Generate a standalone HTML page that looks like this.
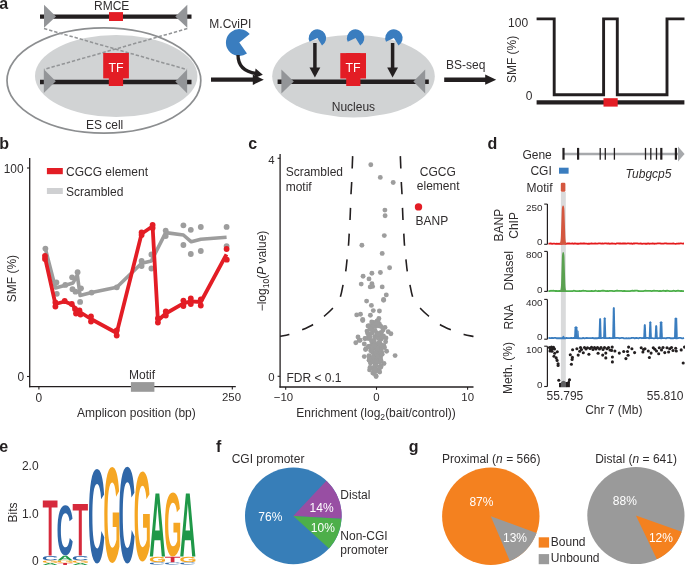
<!DOCTYPE html>
<html><head><meta charset="utf-8"><style>
html,body{margin:0;padding:0;background:#fff;}
svg{display:block;will-change:transform;font-family:"Liberation Sans", sans-serif;}
</style></head><body>
<svg width="685" height="565" viewBox="0 0 685 565">
<rect width="685" height="565" fill="#fff"/>
<text x="-0.8" y="8.8" font-size="16" text-anchor="start" fill="#231f20" font-weight="bold" font-style="normal" >a</text>
<ellipse cx="103.9" cy="80.5" rx="96.9" ry="52.6" fill="none" stroke="#8c8e90" stroke-width="1.7"/>
<ellipse cx="116.2" cy="76" rx="81.2" ry="41" fill="#d1d3d4"/>
<ellipse cx="353.5" cy="76.2" rx="81.3" ry="41.3" fill="#d1d3d4"/>
<text x="111.7" y="9.6" font-size="12" text-anchor="middle" fill="#302d2e" font-weight="normal" font-style="normal" >RMCE</text>
<line x1="40" y1="16.6" x2="191.5" y2="16.6" stroke="#231f20" stroke-width="4.4" />
<rect x="109" y="12.1" width="14" height="8.9" fill="#e31d25" />
<polygon points="44,4.8 44,27.8 56,16.4" fill="#939598" />
<polygon points="187.3,4.8 187.3,27.8 175.3,16.4" fill="#939598" />
<line x1="44" y1="28.6" x2="187" y2="69.6" stroke="#939597" stroke-width="1.55" stroke-dasharray="3.4 1.9"/>
<line x1="187.3" y1="28.6" x2="44" y2="69.4" stroke="#939597" stroke-width="1.55" stroke-dasharray="3.4 1.9"/>
<line x1="40" y1="82" x2="191.5" y2="82" stroke="#231f20" stroke-width="4.4" />
<polygon points="43.8,69.3 43.8,93.1 55.8,81.2" fill="#939598" />
<polygon points="187.1,69.5 187.1,93.3 175.3,81.4" fill="#939598" />
<rect x="103.2" y="53" width="25.7" height="25.4" fill="#e31d25" />
<rect x="108.8" y="53" width="14.3" height="33" fill="#e31d25" />
<text x="116" y="72" font-size="12.4" text-anchor="middle" fill="#fff" font-weight="normal" font-style="normal" >TF</text>
<text x="104.6" y="128.7" font-size="12" text-anchor="middle" fill="#302d2e" font-weight="normal" font-style="normal" >ES cell</text>
<text x="230.3" y="27.9" font-size="12" text-anchor="middle" fill="#302d2e" font-weight="normal" font-style="normal" >M.CviPI</text>
<path d="M239.3,42.5 L246.99,53.48 A13.4,13.4 0 1 1 249.71,34.07 Z" fill="#3a7dbf"/>
<path d="M238,55 C238,66 245,72 256.5,73.6" fill="none" stroke="#231f20" stroke-width="3.3"/>
<polygon points="255.6,68.4 262.8,74.8 254.2,78.2" fill="#231f20" />
<line x1="211" y1="79.7" x2="254" y2="79.7" stroke="#231f20" stroke-width="4.2" />
<polygon points="252.8,74.5 263.8,79.7 252.8,84.9" fill="#231f20" />
<line x1="277.6" y1="81.8" x2="428.8" y2="81.8" stroke="#231f20" stroke-width="4.4" />
<polygon points="281.4,69.4 281.4,93.4 293.8,81.6" fill="#939598" />
<polygon points="425.2,69.4 425.2,93.4 413.4,81.6" fill="#939598" />
<rect x="340.3" y="53.1" width="25.7" height="25.4" fill="#e31d25" />
<rect x="346.2" y="53.1" width="14.2" height="32.9" fill="#e31d25" />
<text x="353.1" y="72" font-size="12.4" text-anchor="middle" fill="#fff" font-weight="normal" font-style="normal" >TF</text>
<text x="353.4" y="110.7" font-size="12" text-anchor="middle" fill="#302d2e" font-weight="normal" font-style="normal" >Nucleus</text>
<path d="M317.4,38 L309.52,41.68 A8.7,8.7 0 1 1 322.01,45.38 Z" fill="#3a7dbf"/>
<path d="M355.6,38 L347.72,41.68 A8.7,8.7 0 1 1 360.21,45.38 Z" fill="#3a7dbf"/>
<path d="M393.9,38 L386.02,41.68 A8.7,8.7 0 1 1 398.51,45.38 Z" fill="#3a7dbf"/>
<line x1="314.9" y1="43" x2="314.9" y2="68.5" stroke="#231f20" stroke-width="3.5" />
<polygon points="309.5,67.4 320.29999999999995,67.4 314.9,77.4" fill="#231f20" />
<line x1="392.6" y1="43" x2="392.6" y2="68.5" stroke="#231f20" stroke-width="3.5" />
<polygon points="387.20000000000005,67.4 398.0,67.4 392.6,77.4" fill="#231f20" />
<text x="465.8" y="68.9" font-size="12" text-anchor="middle" fill="#302d2e" font-weight="normal" font-style="normal" >BS-seq</text>
<line x1="444.2" y1="79.7" x2="486" y2="79.7" stroke="#231f20" stroke-width="4.4" />
<polygon points="485.2,74.6 496.2,79.7 485.2,84.8" fill="#231f20" />
<text x="528.1" y="26.9" font-size="12" text-anchor="end" fill="#302d2e" font-weight="normal" font-style="normal" >100</text>
<text x="532.4" y="99.8" font-size="12" text-anchor="end" fill="#302d2e" font-weight="normal" font-style="normal" >0</text>
<text transform="translate(516.4,59.4) rotate(-90)" font-size="12" text-anchor="middle" fill="#302d2e" >SMF (%)</text>
<path d="M536.6,18.9 H554.2 V94.8 H603.6 V18.9 H617.3 V94.8 H667 V18.9 H684.5" fill="none" stroke="#231f20" stroke-width="2.9"/>
<line x1="536.6" y1="102.4" x2="684.4" y2="102.4" stroke="#231f20" stroke-width="4.4" />
<rect x="603.5" y="98.2" width="14.2" height="8.4" fill="#e31d25" />
<text x="-0.8" y="148.7" font-size="16" text-anchor="start" fill="#231f20" font-weight="bold" font-style="normal" >b</text>
<line x1="29.7" y1="158" x2="29.7" y2="387.3" stroke="#231f20" stroke-width="1.3" />
<line x1="29.05" y1="386.7" x2="235.8" y2="386.7" stroke="#231f20" stroke-width="1.3" />
<line x1="27" y1="168" x2="29.7" y2="168" stroke="#231f20" stroke-width="1.1" />
<line x1="27" y1="376.5" x2="29.7" y2="376.5" stroke="#231f20" stroke-width="1.1" />
<line x1="38.9" y1="386.7" x2="38.9" y2="389.6" stroke="#231f20" stroke-width="1.1" />
<line x1="232.3" y1="386.7" x2="232.3" y2="389.6" stroke="#231f20" stroke-width="1.1" />
<text x="23.5" y="173.1" font-size="11.9" text-anchor="end" fill="#302d2e" font-weight="normal" font-style="normal" >100</text>
<text x="24" y="381" font-size="11.9" text-anchor="end" fill="#302d2e" font-weight="normal" font-style="normal" >0</text>
<text x="38.9" y="401.8" font-size="11.9" text-anchor="middle" fill="#302d2e" font-weight="normal" font-style="normal" >0</text>
<text x="231.5" y="401.2" font-size="11.4" text-anchor="middle" fill="#302d2e" font-weight="normal" font-style="normal" >250</text>
<text transform="translate(16.2,278.6) rotate(-90)" font-size="12" text-anchor="middle" fill="#302d2e" >SMF (%)</text>
<text x="136.4" y="416.6" font-size="12" text-anchor="middle" fill="#302d2e" font-weight="normal" font-style="normal" >Amplicon position (bp)</text>
<rect x="130.9" y="382.1" width="23.5" height="9.7" fill="#999999" />
<text x="142.1" y="379.1" font-size="12" text-anchor="middle" fill="#302d2e" font-weight="normal" font-style="normal" >Motif</text>
<rect x="46.9" y="168" width="15.9" height="6.2" fill="#e31d25" />
<text x="66" y="175.7" font-size="12" text-anchor="start" fill="#302d2e" font-weight="normal" font-style="normal" >CGCG element</text>
<rect x="46.9" y="188" width="15.9" height="6" fill="#cfd0d2" />
<text x="66" y="195.5" font-size="12" text-anchor="start" fill="#302d2e" font-weight="normal" font-style="normal" >Scrambled</text>
<polyline points="45.4,248.9 55.5,288 65.3,285.3 73,283 77.3,275 80.1,295.5 91.6,292.6 116.8,287.3 141.6,263.2 151.4,260.9 165.7,232.6 183.4,235 191.3,241.8 200.8,239.3 226.6,237.2" fill="none" stroke="#9d9d9d" stroke-width="3.6" stroke-linejoin="round" stroke-linecap="butt" />
<circle cx="45.4" cy="248.6" r="2.9" fill="#9d9d9d"/>
<circle cx="56.4" cy="282.4" r="2.9" fill="#9d9d9d"/>
<circle cx="56.8" cy="293.8" r="2.9" fill="#9d9d9d"/>
<circle cx="65.3" cy="284.9" r="2.9" fill="#9d9d9d"/>
<circle cx="77.6" cy="272.2" r="2.9" fill="#9d9d9d"/>
<circle cx="72.1" cy="277.3" r="2.9" fill="#9d9d9d"/>
<circle cx="72.5" cy="289.2" r="2.9" fill="#9d9d9d"/>
<circle cx="75.5" cy="291.7" r="2.9" fill="#9d9d9d"/>
<circle cx="81" cy="288.3" r="2.9" fill="#9d9d9d"/>
<circle cx="80.1" cy="301.9" r="2.9" fill="#9d9d9d"/>
<circle cx="91.6" cy="292.6" r="2.9" fill="#9d9d9d"/>
<circle cx="116.8" cy="287.3" r="2.9" fill="#9d9d9d"/>
<circle cx="141.6" cy="261" r="2.9" fill="#9d9d9d"/>
<circle cx="141.6" cy="266" r="2.9" fill="#9d9d9d"/>
<circle cx="151.4" cy="254.5" r="2.9" fill="#9d9d9d"/>
<circle cx="151.4" cy="268.5" r="2.9" fill="#9d9d9d"/>
<circle cx="165.7" cy="230.6" r="2.9" fill="#9d9d9d"/>
<circle cx="165.7" cy="236" r="2.9" fill="#9d9d9d"/>
<circle cx="183.4" cy="225.3" r="2.9" fill="#9d9d9d"/>
<circle cx="183.4" cy="245" r="2.9" fill="#9d9d9d"/>
<circle cx="190.8" cy="229.8" r="2.9" fill="#9d9d9d"/>
<circle cx="190.8" cy="254" r="2.9" fill="#9d9d9d"/>
<circle cx="200.8" cy="227" r="2.9" fill="#9d9d9d"/>
<circle cx="200.8" cy="251" r="2.9" fill="#9d9d9d"/>
<circle cx="226.6" cy="226.9" r="2.9" fill="#9d9d9d"/>
<circle cx="226.6" cy="246.1" r="2.9" fill="#9d9d9d"/>
<polyline points="45,257.5 55.4,304 64.7,301.5 71.8,304.5 77.5,310.5 91,319 116.7,333 141.6,233.8 152.6,226.3 157.9,320.5 165.8,313.5 183.4,303.4 190.8,301.3 200.8,302 226.5,254.3" fill="none" stroke="#e31d25" stroke-width="3.8" stroke-linejoin="round" stroke-linecap="butt" />
<circle cx="45" cy="256" r="2.9" fill="#e31d25"/>
<circle cx="45" cy="259" r="2.9" fill="#e31d25"/>
<circle cx="55.4" cy="302.5" r="2.9" fill="#e31d25"/>
<circle cx="55.4" cy="306.5" r="2.9" fill="#e31d25"/>
<circle cx="64.7" cy="301" r="2.9" fill="#e31d25"/>
<circle cx="71.8" cy="304" r="2.9" fill="#e31d25"/>
<circle cx="75" cy="309" r="2.9" fill="#e31d25"/>
<circle cx="76" cy="313.5" r="2.9" fill="#e31d25"/>
<circle cx="79.5" cy="310.5" r="2.9" fill="#e31d25"/>
<circle cx="80.5" cy="314.5" r="2.9" fill="#e31d25"/>
<circle cx="78" cy="312" r="2.9" fill="#e31d25"/>
<circle cx="91" cy="316.5" r="2.9" fill="#e31d25"/>
<circle cx="91" cy="321.5" r="2.9" fill="#e31d25"/>
<circle cx="116.7" cy="330.5" r="2.9" fill="#e31d25"/>
<circle cx="116.7" cy="335.5" r="2.9" fill="#e31d25"/>
<circle cx="141.6" cy="232.5" r="2.9" fill="#e31d25"/>
<circle cx="141.6" cy="235" r="2.9" fill="#e31d25"/>
<circle cx="152.6" cy="225" r="2.9" fill="#e31d25"/>
<circle cx="152.6" cy="228" r="2.9" fill="#e31d25"/>
<circle cx="157.9" cy="318.5" r="2.9" fill="#e31d25"/>
<circle cx="157.9" cy="322.5" r="2.9" fill="#e31d25"/>
<circle cx="165.8" cy="311.5" r="2.9" fill="#e31d25"/>
<circle cx="165.8" cy="315.5" r="2.9" fill="#e31d25"/>
<circle cx="183.4" cy="300.6" r="2.9" fill="#e31d25"/>
<circle cx="183.4" cy="306" r="2.9" fill="#e31d25"/>
<circle cx="190.8" cy="298.5" r="2.9" fill="#e31d25"/>
<circle cx="190.8" cy="304" r="2.9" fill="#e31d25"/>
<circle cx="200.8" cy="299.5" r="2.9" fill="#e31d25"/>
<circle cx="200.8" cy="305.5" r="2.9" fill="#e31d25"/>
<circle cx="226.6" cy="249" r="2.9" fill="#e31d25"/>
<circle cx="226.8" cy="259.7" r="2.9" fill="#e31d25"/>
<text x="248.2" y="148.7" font-size="16" text-anchor="start" fill="#231f20" font-weight="bold" font-style="normal" >c</text>
<line x1="280.1" y1="153.9" x2="280.1" y2="387.6" stroke="#231f20" stroke-width="1.3" />
<line x1="279.45" y1="387" x2="473.5" y2="387" stroke="#231f20" stroke-width="1.3" />
<line x1="277.6" y1="158.3" x2="280.1" y2="158.3" stroke="#231f20" stroke-width="1.1" />
<line x1="277.6" y1="376.3" x2="280.1" y2="376.3" stroke="#231f20" stroke-width="1.1" />
<line x1="285.7" y1="387" x2="285.7" y2="389.8" stroke="#231f20" stroke-width="1.1" />
<line x1="376.5" y1="387" x2="376.5" y2="389.8" stroke="#231f20" stroke-width="1.1" />
<line x1="467.6" y1="387" x2="467.6" y2="389.8" stroke="#231f20" stroke-width="1.1" />
<text x="274.6" y="163.6" font-size="11.4" text-anchor="end" fill="#302d2e" font-weight="normal" font-style="normal" >4</text>
<text x="274.6" y="380.5" font-size="11.4" text-anchor="end" fill="#302d2e" font-weight="normal" font-style="normal" >0</text>
<text x="283.4" y="401.3" font-size="11.4" text-anchor="middle" fill="#302d2e" font-weight="normal" font-style="normal" >−10</text>
<text x="376.5" y="401.3" font-size="11.4" text-anchor="middle" fill="#302d2e" font-weight="normal" font-style="normal" >0</text>
<text x="467.7" y="401.3" font-size="11.4" text-anchor="middle" fill="#302d2e" font-weight="normal" font-style="normal" >10</text>
<text x="296.3" y="416.6" font-size="12" fill="#302d2e">Enrichment (log<tspan font-size="8.6" dy="3">2</tspan><tspan dy="-3">(bait/control))</tspan></text>
<text transform="translate(265.9,271) rotate(-90)" font-size="12" text-anchor="middle" fill="#302d2e">−log<tspan font-size="8.6" dy="3">10</tspan><tspan dy="-3">(</tspan><tspan font-style="italic">P</tspan> value)</text>
<text x="285.7" y="176.4" font-size="12" text-anchor="start" fill="#302d2e" font-weight="normal" font-style="normal" >Scrambled</text>
<text x="285.7" y="190.7" font-size="12" text-anchor="start" fill="#302d2e" font-weight="normal" font-style="normal" >motif</text>
<text x="419.8" y="176.3" font-size="12" text-anchor="start" fill="#302d2e" font-weight="normal" font-style="normal" >CGCG</text>
<text x="416.8" y="190.4" font-size="12" text-anchor="start" fill="#302d2e" font-weight="normal" font-style="normal" >element</text>
<text x="415.6" y="224.6" font-size="12" text-anchor="start" fill="#302d2e" font-weight="normal" font-style="normal" >BANP</text>
<text x="286.4" y="382" font-size="12" text-anchor="start" fill="#302d2e" font-weight="normal" font-style="normal" >FDR &lt; 0.1</text>
<path d="M352.7,155 C352.62,157.17 352.37,163.50 352.2,168 C352.03,172.50 351.90,177.62 351.7,182 C351.50,186.38 351.20,189.97 351,194.3 C350.80,198.63 350.67,203.72 350.5,208 C350.33,212.28 350.22,215.75 350,220 C349.78,224.25 349.45,229.28 349.2,233.5 C348.95,237.72 348.85,241.05 348.5,245.3 C348.15,249.55 347.57,254.65 347.1,259 C346.63,263.35 346.37,267.15 345.7,271.4 C345.03,275.65 343.95,280.42 343.1,284.5 C342.25,288.58 341.70,292.73 340.6,295.9 C339.50,299.07 338.10,301.15 336.5,303.5 C334.90,305.85 332.92,308.00 331,310 C329.08,312.00 327.17,313.67 325,315.5 C322.83,317.33 320.33,319.28 318,321 C315.67,322.72 313.33,324.47 311,325.8 C308.67,327.13 306.33,327.97 304,329 C301.67,330.03 299.50,331.08 297,332 C294.50,332.92 291.82,333.78 289,334.5 C286.18,335.22 281.58,336.00 280.1,336.3" fill="none" stroke="#231f20" stroke-width="1.6" stroke-dasharray="12.2 13.6" stroke-dashoffset="-1.3"/>
<path d="M400.3,155 C400.38,157.17 400.63,163.50 400.8,168 C400.97,172.50 401.10,177.62 401.3,182 C401.50,186.38 401.80,189.97 402.0,194.3 C402.20,198.63 402.33,203.72 402.5,208 C402.67,212.28 402.78,215.75 403.0,220 C403.22,224.25 403.55,229.28 403.8,233.5 C404.05,237.72 404.15,241.05 404.5,245.3 C404.85,249.55 405.43,254.65 405.9,259 C406.37,263.35 406.63,267.15 407.3,271.4 C407.97,275.65 409.05,280.42 409.9,284.5 C410.75,288.58 411.30,292.73 412.4,295.9 C413.50,299.07 414.90,301.15 416.5,303.5 C418.10,305.85 420.08,308.00 422.0,310 C423.92,312.00 425.83,313.67 428.0,315.5 C430.17,317.33 432.67,319.28 435.0,321 C437.33,322.72 439.67,324.47 442.0,325.8 C444.33,327.13 446.67,327.97 449.0,329 C451.33,330.03 453.50,331.08 456.0,332 C458.50,332.92 461.08,333.75 464.0,334.5 C466.92,335.25 471.92,336.17 473.5,336.5" fill="none" stroke="#231f20" stroke-width="1.6" stroke-dasharray="12.2 13.6" stroke-dashoffset="-1.3"/>
<circle cx="370.8" cy="164.8" r="2.45" fill="#9d9d9d"/>
<circle cx="380.3" cy="177.4" r="2.45" fill="#9d9d9d"/>
<circle cx="393.2" cy="182.5" r="2.45" fill="#9d9d9d"/>
<circle cx="384.9" cy="210.1" r="2.45" fill="#9d9d9d"/>
<circle cx="385.1" cy="215.8" r="2.45" fill="#9d9d9d"/>
<circle cx="384.3" cy="235.6" r="2.45" fill="#9d9d9d"/>
<circle cx="361.9" cy="245.3" r="2.45" fill="#9d9d9d"/>
<circle cx="382.2" cy="253.4" r="2.45" fill="#9d9d9d"/>
<circle cx="389.6" cy="267.8" r="2.45" fill="#9d9d9d"/>
<circle cx="371.9" cy="273.2" r="2.45" fill="#9d9d9d"/>
<circle cx="380.4" cy="272.5" r="2.45" fill="#9d9d9d"/>
<circle cx="363.1" cy="276.3" r="2.45" fill="#9d9d9d"/>
<circle cx="369" cy="278.9" r="2.45" fill="#9d9d9d"/>
<circle cx="361.2" cy="284.1" r="2.45" fill="#9d9d9d"/>
<circle cx="371.9" cy="283.8" r="2.45" fill="#9d9d9d"/>
<circle cx="370.2" cy="286.9" r="2.45" fill="#9d9d9d"/>
<circle cx="372.6" cy="286.4" r="2.45" fill="#9d9d9d"/>
<circle cx="382.2" cy="286.9" r="2.45" fill="#9d9d9d"/>
<circle cx="386.3" cy="294.9" r="2.45" fill="#9d9d9d"/>
<circle cx="383.6" cy="299.4" r="2.45" fill="#9d9d9d"/>
<circle cx="366.6" cy="301.1" r="2.45" fill="#9d9d9d"/>
<circle cx="371.4" cy="305.4" r="2.45" fill="#9d9d9d"/>
<circle cx="383.6" cy="300.3" r="2.45" fill="#9d9d9d"/>
<circle cx="373.3" cy="310.6" r="2.45" fill="#9d9d9d"/>
<circle cx="370.4" cy="315.3" r="2.45" fill="#9d9d9d"/>
<circle cx="379.4" cy="311" r="2.45" fill="#9d9d9d"/>
<circle cx="356.7" cy="314.9" r="2.45" fill="#9d9d9d"/>
<circle cx="360.5" cy="314.2" r="2.45" fill="#9d9d9d"/>
<circle cx="362.7" cy="319.5" r="2.45" fill="#9d9d9d"/>
<circle cx="378.9" cy="318.4" r="2.45" fill="#9d9d9d"/>
<circle cx="377.1" cy="321" r="2.45" fill="#9d9d9d"/>
<circle cx="373.3" cy="322.7" r="2.45" fill="#9d9d9d"/>
<circle cx="362.7" cy="320.5" r="2.45" fill="#9d9d9d"/>
<circle cx="373.4" cy="322.7" r="2.45" fill="#9d9d9d"/>
<circle cx="378.1" cy="321.1" r="2.45" fill="#9d9d9d"/>
<circle cx="371.8" cy="328" r="2.45" fill="#9d9d9d"/>
<circle cx="367" cy="331.1" r="2.45" fill="#9d9d9d"/>
<circle cx="378.7" cy="325.8" r="2.45" fill="#9d9d9d"/>
<circle cx="385" cy="327.4" r="2.45" fill="#9d9d9d"/>
<circle cx="388.2" cy="331.7" r="2.45" fill="#9d9d9d"/>
<circle cx="390.9" cy="333.8" r="2.45" fill="#9d9d9d"/>
<circle cx="380.8" cy="332.7" r="2.45" fill="#9d9d9d"/>
<circle cx="358" cy="337" r="2.45" fill="#9d9d9d"/>
<circle cx="364.9" cy="338.6" r="2.45" fill="#9d9d9d"/>
<circle cx="355.8" cy="342.8" r="2.45" fill="#9d9d9d"/>
<circle cx="360.1" cy="340.2" r="2.45" fill="#9d9d9d"/>
<circle cx="364.3" cy="343.9" r="2.45" fill="#9d9d9d"/>
<circle cx="385.6" cy="341.8" r="2.45" fill="#9d9d9d"/>
<circle cx="365.9" cy="348.7" r="2.45" fill="#9d9d9d"/>
<circle cx="386.6" cy="351.3" r="2.45" fill="#9d9d9d"/>
<circle cx="384.5" cy="347.6" r="2.45" fill="#9d9d9d"/>
<circle cx="364.3" cy="356.6" r="2.45" fill="#9d9d9d"/>
<circle cx="395.1" cy="355.6" r="2.45" fill="#9d9d9d"/>
<circle cx="369.1" cy="360.3" r="2.45" fill="#9d9d9d"/>
<circle cx="384" cy="363.5" r="2.45" fill="#9d9d9d"/>
<circle cx="369.6" cy="369.9" r="2.45" fill="#9d9d9d"/>
<circle cx="380.3" cy="366.7" r="2.45" fill="#9d9d9d"/>
<circle cx="376" cy="375.7" r="2.45" fill="#9d9d9d"/>
<circle cx="372.8" cy="373.1" r="2.45" fill="#9d9d9d"/>
<circle cx="379.7" cy="372" r="2.45" fill="#9d9d9d"/>
<circle cx="369" cy="334" r="2.45" fill="#9d9d9d"/>
<circle cx="374.7" cy="336.8" r="2.45" fill="#9d9d9d"/>
<circle cx="365.2" cy="338.5" r="2.45" fill="#9d9d9d"/>
<circle cx="359.1" cy="340.4" r="2.45" fill="#9d9d9d"/>
<circle cx="379.6" cy="342.5" r="2.45" fill="#9d9d9d"/>
<circle cx="368.3" cy="346.7" r="2.45" fill="#9d9d9d"/>
<circle cx="374" cy="345.3" r="2.45" fill="#9d9d9d"/>
<circle cx="365.5" cy="349.6" r="2.45" fill="#9d9d9d"/>
<circle cx="381.1" cy="348.8" r="2.45" fill="#9d9d9d"/>
<circle cx="372.6" cy="352.4" r="2.45" fill="#9d9d9d"/>
<circle cx="378.2" cy="353.8" r="2.45" fill="#9d9d9d"/>
<circle cx="370.4" cy="358" r="2.45" fill="#9d9d9d"/>
<circle cx="377.5" cy="359.5" r="2.45" fill="#9d9d9d"/>
<circle cx="370.4" cy="363" r="2.45" fill="#9d9d9d"/>
<circle cx="375.4" cy="365.1" r="2.45" fill="#9d9d9d"/>
<circle cx="381.1" cy="366.5" r="2.45" fill="#9d9d9d"/>
<circle cx="378.2" cy="370.8" r="2.45" fill="#9d9d9d"/>
<circle cx="374" cy="373.6" r="2.45" fill="#9d9d9d"/>
<circle cx="376.1" cy="376.5" r="2.45" fill="#9d9d9d"/>
<circle cx="376.6" cy="344.6" r="2.45" fill="#9d9d9d"/>
<circle cx="377.2" cy="349.3" r="2.45" fill="#9d9d9d"/>
<circle cx="369.8" cy="358.5" r="2.45" fill="#9d9d9d"/>
<circle cx="381.9" cy="336.5" r="2.45" fill="#9d9d9d"/>
<circle cx="371.8" cy="345.3" r="2.45" fill="#9d9d9d"/>
<circle cx="374.5" cy="371.8" r="2.45" fill="#9d9d9d"/>
<circle cx="374.7" cy="366.1" r="2.45" fill="#9d9d9d"/>
<circle cx="370.9" cy="359.0" r="2.45" fill="#9d9d9d"/>
<circle cx="379.9" cy="358.9" r="2.45" fill="#9d9d9d"/>
<circle cx="378.7" cy="354.8" r="2.45" fill="#9d9d9d"/>
<circle cx="369.9" cy="360.2" r="2.45" fill="#9d9d9d"/>
<circle cx="376.2" cy="363.3" r="2.45" fill="#9d9d9d"/>
<circle cx="368.8" cy="346.8" r="2.45" fill="#9d9d9d"/>
<circle cx="374.7" cy="367.2" r="2.45" fill="#9d9d9d"/>
<circle cx="379.7" cy="361.9" r="2.45" fill="#9d9d9d"/>
<circle cx="380.2" cy="361.7" r="2.45" fill="#9d9d9d"/>
<circle cx="379.9" cy="350.2" r="2.45" fill="#9d9d9d"/>
<circle cx="381.6" cy="352.0" r="2.45" fill="#9d9d9d"/>
<circle cx="370.6" cy="367.6" r="2.45" fill="#9d9d9d"/>
<circle cx="371.5" cy="340.9" r="2.45" fill="#9d9d9d"/>
<circle cx="374.1" cy="370.8" r="2.45" fill="#9d9d9d"/>
<circle cx="372.8" cy="358.6" r="2.45" fill="#9d9d9d"/>
<circle cx="374.0" cy="354.3" r="2.45" fill="#9d9d9d"/>
<circle cx="377.0" cy="348.6" r="2.45" fill="#9d9d9d"/>
<circle cx="380.6" cy="357.0" r="2.45" fill="#9d9d9d"/>
<circle cx="380.5" cy="360.6" r="2.45" fill="#9d9d9d"/>
<circle cx="380.4" cy="366.8" r="2.45" fill="#9d9d9d"/>
<circle cx="371.1" cy="360.2" r="2.45" fill="#9d9d9d"/>
<circle cx="380.1" cy="367.0" r="2.45" fill="#9d9d9d"/>
<circle cx="375.6" cy="368.6" r="2.45" fill="#9d9d9d"/>
<circle cx="371.7" cy="361.7" r="2.45" fill="#9d9d9d"/>
<circle cx="375.8" cy="365.9" r="2.45" fill="#9d9d9d"/>
<circle cx="369.3" cy="346.3" r="2.45" fill="#9d9d9d"/>
<circle cx="380.4" cy="366.7" r="2.45" fill="#9d9d9d"/>
<circle cx="381.0" cy="339.2" r="2.45" fill="#9d9d9d"/>
<circle cx="370.7" cy="350.8" r="2.45" fill="#9d9d9d"/>
<circle cx="379.8" cy="346.6" r="2.45" fill="#9d9d9d"/>
<circle cx="370.0" cy="367.4" r="2.45" fill="#9d9d9d"/>
<circle cx="369.5" cy="358.1" r="2.45" fill="#9d9d9d"/>
<circle cx="373.1" cy="361.9" r="2.45" fill="#9d9d9d"/>
<circle cx="380.1" cy="367.7" r="2.45" fill="#9d9d9d"/>
<circle cx="382.2" cy="354.2" r="2.45" fill="#9d9d9d"/>
<circle cx="369.5" cy="347.1" r="2.45" fill="#9d9d9d"/>
<circle cx="369.4" cy="357.6" r="2.45" fill="#9d9d9d"/>
<circle cx="374.5" cy="343.1" r="2.45" fill="#9d9d9d"/>
<circle cx="371.0" cy="358.0" r="2.45" fill="#9d9d9d"/>
<circle cx="382.3" cy="337.5" r="2.45" fill="#9d9d9d"/>
<circle cx="382.6" cy="347.3" r="2.45" fill="#9d9d9d"/>
<circle cx="373.6" cy="368.3" r="2.45" fill="#9d9d9d"/>
<circle cx="375.8" cy="352.6" r="2.45" fill="#9d9d9d"/>
<circle cx="376.5" cy="359.2" r="2.45" fill="#9d9d9d"/>
<circle cx="377.0" cy="356.1" r="2.45" fill="#9d9d9d"/>
<circle cx="374.9" cy="369.9" r="2.45" fill="#9d9d9d"/>
<circle cx="378.7" cy="351.5" r="2.45" fill="#9d9d9d"/>
<circle cx="372.8" cy="344.6" r="2.45" fill="#9d9d9d"/>
<circle cx="375.0" cy="371.2" r="2.45" fill="#9d9d9d"/>
<circle cx="369.0" cy="355.7" r="2.45" fill="#9d9d9d"/>
<circle cx="376.8" cy="350.9" r="2.45" fill="#9d9d9d"/>
<circle cx="378.2" cy="336.7" r="2.45" fill="#9d9d9d"/>
<circle cx="369.8" cy="358.8" r="2.45" fill="#9d9d9d"/>
<circle cx="374.9" cy="358.6" r="2.45" fill="#9d9d9d"/>
<circle cx="373.4" cy="360.5" r="2.45" fill="#9d9d9d"/>
<circle cx="378.1" cy="361.5" r="2.45" fill="#9d9d9d"/>
<circle cx="368.8" cy="336.8" r="2.45" fill="#9d9d9d"/>
<circle cx="380.9" cy="360.3" r="2.45" fill="#9d9d9d"/>
<circle cx="375.2" cy="345.0" r="2.45" fill="#9d9d9d"/>
<circle cx="373.0" cy="357.3" r="2.45" fill="#9d9d9d"/>
<circle cx="373.0" cy="349.1" r="2.45" fill="#9d9d9d"/>
<circle cx="377.1" cy="349.3" r="2.45" fill="#9d9d9d"/>
<circle cx="374.0" cy="346.8" r="2.45" fill="#9d9d9d"/>
<circle cx="376.7" cy="332.9" r="2.45" fill="#9d9d9d"/>
<circle cx="375.2" cy="344.2" r="2.45" fill="#9d9d9d"/>
<circle cx="377.2" cy="334.2" r="2.45" fill="#9d9d9d"/>
<circle cx="375.7" cy="326.4" r="2.45" fill="#9d9d9d"/>
<circle cx="380.6" cy="337.1" r="2.45" fill="#9d9d9d"/>
<circle cx="372.9" cy="324.3" r="2.45" fill="#9d9d9d"/>
<circle cx="379.5" cy="324.2" r="2.45" fill="#9d9d9d"/>
<circle cx="368.2" cy="338.6" r="2.45" fill="#9d9d9d"/>
<circle cx="383.4" cy="345.6" r="2.45" fill="#9d9d9d"/>
<circle cx="377.7" cy="337.7" r="2.45" fill="#9d9d9d"/>
<circle cx="369.2" cy="325.8" r="2.45" fill="#9d9d9d"/>
<circle cx="368.5" cy="334.7" r="2.45" fill="#9d9d9d"/>
<circle cx="372.1" cy="326.6" r="2.45" fill="#9d9d9d"/>
<circle cx="375.0" cy="322.7" r="2.45" fill="#9d9d9d"/>
<circle cx="381.4" cy="332.6" r="2.45" fill="#9d9d9d"/>
<circle cx="378.1" cy="334.5" r="2.45" fill="#9d9d9d"/>
<circle cx="378.4" cy="334.0" r="2.45" fill="#9d9d9d"/>
<circle cx="372.1" cy="333.0" r="2.45" fill="#9d9d9d"/>
<circle cx="383.9" cy="345.9" r="2.45" fill="#9d9d9d"/>
<circle cx="379.2" cy="342.2" r="2.45" fill="#9d9d9d"/>
<circle cx="372.0" cy="329.6" r="2.45" fill="#9d9d9d"/>
<circle cx="369.9" cy="328.9" r="2.45" fill="#9d9d9d"/>
<circle cx="374.1" cy="340.4" r="2.45" fill="#9d9d9d"/>
<circle cx="373.9" cy="342.3" r="2.45" fill="#9d9d9d"/>
<circle cx="381.5" cy="345.0" r="2.45" fill="#9d9d9d"/>
<circle cx="371.7" cy="322.0" r="2.45" fill="#9d9d9d"/>
<circle cx="375.3" cy="343.8" r="2.45" fill="#9d9d9d"/>
<circle cx="374.1" cy="345.5" r="2.45" fill="#9d9d9d"/>
<circle cx="377.2" cy="323.8" r="2.45" fill="#9d9d9d"/>
<circle cx="372.0" cy="340.7" r="2.45" fill="#9d9d9d"/>
<circle cx="368" cy="326" r="2.45" fill="#9d9d9d"/>
<circle cx="381" cy="326.5" r="2.45" fill="#9d9d9d"/>
<circle cx="383" cy="330" r="2.45" fill="#9d9d9d"/>
<circle cx="367.5" cy="333" r="2.45" fill="#9d9d9d"/>
<circle cx="370" cy="337" r="2.45" fill="#9d9d9d"/>
<circle cx="383.5" cy="336" r="2.45" fill="#9d9d9d"/>
<circle cx="386" cy="338" r="2.45" fill="#9d9d9d"/>
<circle cx="375" cy="330.5" r="2.45" fill="#9d9d9d"/>
<circle cx="378" cy="334" r="2.45" fill="#9d9d9d"/>
<circle cx="418.5" cy="206.9" r="3.7" fill="#e31d25"/>
<text x="487.4" y="148.6" font-size="16" text-anchor="start" fill="#231f20" font-weight="bold" font-style="normal" >d</text>
<text x="551.8" y="158.6" font-size="12" text-anchor="end" fill="#302d2e" font-weight="normal" font-style="normal" >Gene</text>
<text x="551.8" y="174.6" font-size="12" text-anchor="end" fill="#302d2e" font-weight="normal" font-style="normal" >CGI</text>
<text x="552.6" y="191.5" font-size="12" text-anchor="end" fill="#302d2e" font-weight="normal" font-style="normal" >Motif</text>
<line x1="563.5" y1="154" x2="679" y2="154" stroke="#a7a9ac" stroke-width="2.6" />
<polygon points="678,146.4 684.6,154 678,161.6" fill="#a7a9ac" />
<line x1="563.5" y1="147.9" x2="563.5" y2="159.7" stroke="#231f20" stroke-width="2.2" />
<line x1="578.1" y1="147.9" x2="578.1" y2="159.7" stroke="#231f20" stroke-width="2.2" />
<line x1="600.2" y1="147.9" x2="600.2" y2="159.7" stroke="#231f20" stroke-width="1.3" />
<line x1="605.3" y1="147.9" x2="605.3" y2="159.7" stroke="#231f20" stroke-width="1.3" />
<line x1="614.4" y1="147.9" x2="614.4" y2="159.7" stroke="#231f20" stroke-width="1.3" />
<line x1="645.5" y1="147.9" x2="645.5" y2="159.7" stroke="#231f20" stroke-width="1.3" />
<line x1="650.8" y1="147.9" x2="650.8" y2="159.7" stroke="#231f20" stroke-width="1.3" />
<line x1="656.5" y1="147.9" x2="656.5" y2="159.7" stroke="#231f20" stroke-width="1.3" />
<line x1="661.3" y1="147.9" x2="661.3" y2="159.7" stroke="#231f20" stroke-width="2.2" />
<line x1="675.9" y1="147.9" x2="675.9" y2="159.7" stroke="#231f20" stroke-width="2.2" />
<text x="625.6" y="177.7" font-size="12" text-anchor="start" fill="#302d2e" font-weight="normal" font-style="italic" >Tubgcp5</text>
<rect x="559" y="167.7" width="9.6" height="6.0" fill="#3a7dbf" />
<rect x="560.8" y="182.7" width="4.6" height="9.1" rx="1.2" fill="#d4573f"/>
<rect x="560.9" y="192" width="4.9" height="194.7" fill="#d9dadb" />
<line x1="547.4" y1="204.1" x2="547.4" y2="244.3" stroke="#231f20" stroke-width="1.2" />
<line x1="544.2" y1="204.1" x2="547.4" y2="204.1" stroke="#231f20" stroke-width="1.1" />
<line x1="544.2" y1="244.3" x2="547.4" y2="244.3" stroke="#231f20" stroke-width="1.1" />
<text x="542.4" y="210.6" font-size="9.9" text-anchor="end" fill="#302d2e" font-weight="normal" font-style="normal" >250</text>
<text x="542.5" y="244.9" font-size="9.9" text-anchor="end" fill="#302d2e" font-weight="normal" font-style="normal" >0</text>
<line x1="547.4" y1="251.4" x2="547.4" y2="291.4" stroke="#231f20" stroke-width="1.2" />
<line x1="544.2" y1="251.4" x2="547.4" y2="251.4" stroke="#231f20" stroke-width="1.1" />
<line x1="544.2" y1="291.4" x2="547.4" y2="291.4" stroke="#231f20" stroke-width="1.1" />
<text x="542.4" y="257.9" font-size="9.9" text-anchor="end" fill="#302d2e" font-weight="normal" font-style="normal" >800</text>
<text x="542.5" y="292.7" font-size="9.9" text-anchor="end" fill="#302d2e" font-weight="normal" font-style="normal" >0</text>
<line x1="547.4" y1="299.4" x2="547.4" y2="339.2" stroke="#231f20" stroke-width="1.2" />
<line x1="544.2" y1="299.4" x2="547.4" y2="299.4" stroke="#231f20" stroke-width="1.1" />
<line x1="544.2" y1="339.2" x2="547.4" y2="339.2" stroke="#231f20" stroke-width="1.1" />
<text x="542.4" y="305.9" font-size="9.9" text-anchor="end" fill="#302d2e" font-weight="normal" font-style="normal" >400</text>
<text x="542.5" y="339.9" font-size="9.9" text-anchor="end" fill="#302d2e" font-weight="normal" font-style="normal" >0</text>
<line x1="547.4" y1="346.2" x2="547.4" y2="386.5" stroke="#231f20" stroke-width="1.2" />
<line x1="544.2" y1="346.2" x2="547.4" y2="346.2" stroke="#231f20" stroke-width="1.1" />
<line x1="544.2" y1="386.5" x2="547.4" y2="386.5" stroke="#231f20" stroke-width="1.1" />
<text x="542.4" y="352.7" font-size="9.9" text-anchor="end" fill="#302d2e" font-weight="normal" font-style="normal" >100</text>
<text x="542.5" y="387.9" font-size="9.9" text-anchor="end" fill="#302d2e" font-weight="normal" font-style="normal" >0</text>
<text transform="translate(503.1,225.2) rotate(-90)" font-size="12" text-anchor="middle" fill="#302d2e" >BANP</text>
<text transform="translate(518.2,225.4) rotate(-90)" font-size="12" text-anchor="middle" fill="#302d2e" >ChIP</text>
<text transform="translate(512.6,270.6) rotate(-90)" font-size="12" text-anchor="middle" fill="#302d2e" >DNaseI</text>
<text transform="translate(512.6,316.9) rotate(-90)" font-size="12" text-anchor="middle" fill="#302d2e" >RNA</text>
<text transform="translate(512.2,368.1) rotate(-90)" font-size="12" text-anchor="middle" fill="#302d2e" >Meth. (%)</text>
<polyline points="548.4,243.64 549.6,243.72 550.8,243.47 552.0,243.76 553.2,243.53 554.4,243.62 555.6,243.77 556.8,243.55 558.0,243.78 559.2,243.58 560.4,243.77 561.6,243.75 562.8,243.59 564.0,243.39 565.2,243.74 566.4,243.69 567.6,243.49 568.8,243.33 570.0,243.51 571.2,243.6 572.4,243.31 573.6,243.78 574.8,243.37 576.0,243.66 577.2,243.73 578.4,243.74 579.6,243.65 580.8,243.39 582.0,243.71 583.2,243.51 584.4,243.48 585.6,243.61 586.8,243.53 588.0,243.77 589.2,243.77 590.4,243.7 591.6,243.46 592.8,243.59 594.0,243.64 595.2,243.51 596.4,243.57 597.6,243.65 598.8,243.4 600.0,243.45 601.2,243.68 602.4,243.51 603.6,243.54 604.8,243.36 606.0,243.44 607.2,243.66 608.4,243.31 609.6,243.74 610.8,243.59 612.0,243.42 613.2,243.72 614.4,243.56 615.6,243.78 616.8,243.47 618.0,243.42 619.2,243.51 620.4,243.36 621.6,243.64 622.8,243.45 624.0,243.5 625.2,243.51 626.4,243.57 627.6,243.38 628.8,243.33 630.0,243.56 631.2,243.47 632.4,243.77 633.6,243.45 634.8,243.48 636.0,243.3 637.2,243.39 638.4,243.66 639.6,243.61 640.8,243.47 642.0,243.79 643.2,243.57 644.4,243.72 645.6,243.74 646.8,243.77 648.0,243.42 649.2,243.74 650.4,243.68 651.6,243.6 652.8,243.36 654.0,243.76 655.2,243.58 656.4,243.53 657.6,243.36 658.8,243.39 660.0,243.37 661.2,243.66 662.4,243.59 663.6,243.62 664.8,243.36 666.0,243.32 667.2,243.72 668.4,243.71 669.6,243.68 670.8,243.68 672.0,243.56 673.2,243.51 674.4,243.67 675.6,243.8 676.8,243.59 678.0,243.62 679.2,243.52 680.4,243.32 681.6,243.45 682.8,243.54 684.0,243.49" fill="none" stroke="#e41a1c" stroke-width="1.8" stroke-linejoin="round" stroke-linecap="butt" />
<path d="M559.4000000000001,244.4 C560.4000000000001,242.8 560.7,240.8 560.9000000000001,235.8 L561.78,210.6 Q562.02,205.6 563.1,205.6 Q564.1800000000001,205.6 564.4200000000001,210.6 L565.3,235.8 C565.5,240.8 565.8,242.8 566.8,244.4 Z" fill="#d4573f"/>
<polyline points="548.4,290.86 549.6,291.17 550.8,290.75 552.0,290.81 553.2,290.76 554.4,290.8 555.6,291.0 556.8,291.0 558.0,291.15 559.2,290.88 560.4,291.17 561.6,291.17 562.8,291.1 564.0,291.12 565.2,291.03 566.4,291.17 567.6,291.2 568.8,291.12 570.0,291.15 571.2,291.02 572.4,291.19 573.6,290.76 574.8,290.89 576.0,291.13 577.2,291.07 578.4,291.03 579.6,291.02 580.8,291.14 582.0,290.78 583.2,290.7 584.4,290.97 585.6,290.96 586.8,291.16 588.0,291.15 589.2,291.03 590.4,291.07 591.6,290.79 592.8,291.12 594.0,291.19 595.2,290.72 596.4,290.94 597.6,291.13 598.8,290.93 600.0,291.19 601.2,290.94 602.4,290.71 603.6,290.77 604.8,290.85 606.0,291.07 607.2,291.02 608.4,291.12 609.6,290.81 610.8,290.93 612.0,290.81 613.2,291.04 614.4,291.09 615.6,290.79 616.8,290.71 618.0,290.77 619.2,290.8 620.4,290.79 621.6,290.83 622.8,291.09 624.0,290.94 625.2,291.02 626.4,291.19 627.6,291.19 628.8,291.06 630.0,291.07 631.2,290.85 632.4,290.72 633.6,290.98 634.8,290.73 636.0,290.71 637.2,290.72 638.4,291.02 639.6,291.09 640.8,291.09 642.0,291.1 643.2,291.1 644.4,290.89 645.6,290.75 646.8,290.78 648.0,290.96 649.2,290.87 650.4,290.8 651.6,291.16 652.8,290.87 654.0,290.75 655.2,290.81 656.4,290.82 657.6,290.96 658.8,291.11 660.0,290.81 661.2,291.03 662.4,290.8 663.6,290.71 664.8,291.0 666.0,291.0 667.2,290.73 668.4,290.84 669.6,291.11 670.8,291.14 672.0,291.12 673.2,290.75 674.4,290.8 675.6,291.13 676.8,290.79 678.0,290.71 679.2,290.87 680.4,291.02 681.6,290.93 682.8,291.13 684.0,291.19" fill="none" stroke="#4daf4a" stroke-width="1.8" stroke-linejoin="round" stroke-linecap="butt" />
<path d="M559.6000000000001,291.8 C560.6000000000001,290.2 560.9000000000001,288.2 561.1000000000001,283.2 L561.9350000000001,257.0 Q562.1650000000001,252.0 563.2,252.0 Q564.235,252.0 564.465,257.0 L565.3,283.2 C565.5,288.2 565.8,290.2 566.8,291.8 Z" fill="#5aa150"/>
<polyline points="548.4,337.82 549.6,338.01 550.8,338.08 552.0,337.84 553.2,338.14 554.4,337.88 555.6,337.9 556.8,338.27 558.0,338.25 559.2,338.22 560.4,338.26 561.6,338.05 562.8,338.24 564.0,338.15 565.2,338.32 566.4,337.85 567.6,338.19 568.8,338.13 570.0,338.05 571.2,337.86 572.4,338.15 573.6,337.85 574.8,338.1 576.0,338.08 577.2,338.09 578.4,338.39 579.6,338.14 580.8,338.29 582.0,338.4 583.2,337.92 584.4,338.3 585.6,338.12 586.8,337.96 588.0,338.07 589.2,338.2 590.4,338.09 591.6,338.07 592.8,337.93 594.0,338.34 595.2,338.06 596.4,338.25 597.6,338.23 598.8,337.94 600.0,338.1 601.2,338.06 602.4,337.94 603.6,337.85 604.8,338.13 606.0,338.03 607.2,338.1 608.4,338.09 609.6,337.98 610.8,338.13 612.0,338.08 613.2,338.11 614.4,337.84 615.6,337.98 616.8,337.87 618.0,337.83 619.2,338.24 620.4,338.06 621.6,337.83 622.8,337.9 624.0,338.32 625.2,338.33 626.4,338.13 627.6,338.36 628.8,338.26 630.0,338.36 631.2,338.0 632.4,337.93 633.6,337.86 634.8,338.31 636.0,337.97 637.2,338.0 638.4,338.31 639.6,337.87 640.8,337.82 642.0,338.27 643.2,337.83 644.4,338.16 645.6,338.11 646.8,337.81 648.0,337.9 649.2,338.3 650.4,338.14 651.6,338.09 652.8,338.2 654.0,338.28 655.2,338.21 656.4,337.97 657.6,338.39 658.8,338.07 660.0,338.14 661.2,338.39 662.4,338.2 663.6,338.03 664.8,338.09 666.0,338.36 667.2,337.81 668.4,337.93 669.6,337.82 670.8,338.34 672.0,338.24 673.2,338.38 674.4,337.93 675.6,338.24 676.8,338.32 678.0,338.15 679.2,337.85 680.4,337.91 681.6,338.24 682.8,338.31 684.0,337.85" fill="none" stroke="#3a7dbf" stroke-width="1.8" stroke-linejoin="round" stroke-linecap="butt" />
<path d="M574.0,338.6 L574.6,327.3 Q576.0,325.3 577.4,327.3 L578.0,338.6 Z" fill="#3a7dbf"/>
<path d="M598.5,338.6 L599.1,319.09999999999997 Q600.1,317.09999999999997 601.1,319.09999999999997 L601.7,338.6 Z" fill="#3a7dbf"/>
<path d="M603.1,338.6 L603.7,318.2 Q604.7,316.2 605.7,318.2 L606.3000000000001,338.6 Z" fill="#3a7dbf"/>
<path d="M612.1999999999999,338.6 L612.8,308.0 Q613.8,306.0 614.8,308.0 L615.4,338.6 Z" fill="#3a7dbf"/>
<path d="M643.1999999999999,338.6 L643.8,325.0 Q644.8,323.0 645.8,325.0 L646.4,338.6 Z" fill="#3a7dbf"/>
<path d="M648.6999999999999,338.6 L649.3,322.2 Q650.3,320.2 651.3,322.2 L651.9,338.6 Z" fill="#3a7dbf"/>
<path d="M654.6,338.6 L655.2,325.9 Q656.2,323.9 657.2,325.9 L657.8000000000001,338.6 Z" fill="#3a7dbf"/>
<path d="M659.3,338.6 L659.9,322.2 Q661.1,320.2 662.3000000000001,322.2 L662.9000000000001,338.6 Z" fill="#3a7dbf"/>
<path d="M674.0,338.6 L674.6,318.59999999999997 Q675.9,316.59999999999997 677.1999999999999,318.59999999999997 L677.8,338.6 Z" fill="#3a7dbf"/>
<path d="M561.8,338.6 L562.4,336.7 Q563.4,334.7 564.4,336.7 L565.0,338.6 Z" fill="#3a7dbf"/>
<path d="M577.4,338.6 L577.4,330 L578.6,331 L579,338.6 Z" fill="#3a7dbf"/>
<circle cx="549.5" cy="347.5" r="1.55" fill="#231f20"/>
<circle cx="550.5" cy="349.5" r="1.55" fill="#231f20"/>
<circle cx="551.5" cy="347" r="1.55" fill="#231f20"/>
<circle cx="552.5" cy="348.8" r="1.55" fill="#231f20"/>
<circle cx="553.5" cy="347.2" r="1.55" fill="#231f20"/>
<circle cx="554.5" cy="349" r="1.55" fill="#231f20"/>
<circle cx="550" cy="351" r="1.55" fill="#231f20"/>
<circle cx="552" cy="351.2" r="1.55" fill="#231f20"/>
<circle cx="554.7" cy="353.3" r="1.55" fill="#231f20"/>
<circle cx="557.3" cy="351.7" r="1.55" fill="#231f20"/>
<circle cx="554" cy="356.3" r="1.55" fill="#231f20"/>
<circle cx="556.2" cy="357.9" r="1.55" fill="#231f20"/>
<circle cx="557.1" cy="360.4" r="1.55" fill="#231f20"/>
<circle cx="558.1" cy="363.7" r="1.55" fill="#231f20"/>
<circle cx="558.1" cy="365.5" r="1.55" fill="#231f20"/>
<circle cx="572.6" cy="349.7" r="1.55" fill="#231f20"/>
<circle cx="576.9" cy="348.7" r="1.55" fill="#231f20"/>
<circle cx="570.3" cy="354.8" r="1.55" fill="#231f20"/>
<circle cx="572.4" cy="357.4" r="1.55" fill="#231f20"/>
<circle cx="572.1" cy="359.4" r="1.55" fill="#231f20"/>
<circle cx="571.4" cy="364.3" r="1.55" fill="#231f20"/>
<circle cx="578.2" cy="355.1" r="1.55" fill="#231f20"/>
<circle cx="579.7" cy="351.2" r="1.55" fill="#231f20"/>
<circle cx="580.5" cy="347.5" r="1.55" fill="#231f20"/>
<circle cx="581.5" cy="349.5" r="1.55" fill="#231f20"/>
<circle cx="583.3" cy="352.8" r="1.55" fill="#231f20"/>
<circle cx="584.5" cy="347.5" r="1.55" fill="#231f20"/>
<circle cx="586" cy="349" r="1.55" fill="#231f20"/>
<circle cx="587.5" cy="347.8" r="1.55" fill="#231f20"/>
<circle cx="588.9" cy="354.3" r="1.55" fill="#231f20"/>
<circle cx="590" cy="348.5" r="1.55" fill="#231f20"/>
<circle cx="591.5" cy="347.2" r="1.55" fill="#231f20"/>
<circle cx="593" cy="349.5" r="1.55" fill="#231f20"/>
<circle cx="594.5" cy="347.6" r="1.55" fill="#231f20"/>
<circle cx="596" cy="349" r="1.55" fill="#231f20"/>
<circle cx="597.5" cy="347.5" r="1.55" fill="#231f20"/>
<circle cx="598.1" cy="353.3" r="1.55" fill="#231f20"/>
<circle cx="599.5" cy="349" r="1.55" fill="#231f20"/>
<circle cx="601" cy="347.5" r="1.55" fill="#231f20"/>
<circle cx="602.7" cy="355.1" r="1.55" fill="#231f20"/>
<circle cx="603" cy="349.5" r="1.55" fill="#231f20"/>
<circle cx="604.5" cy="347.5" r="1.55" fill="#231f20"/>
<circle cx="605.8" cy="353.1" r="1.55" fill="#231f20"/>
<circle cx="605.8" cy="357.9" r="1.55" fill="#231f20"/>
<circle cx="607" cy="348.8" r="1.55" fill="#231f20"/>
<circle cx="608.5" cy="347.5" r="1.55" fill="#231f20"/>
<circle cx="610" cy="350" r="1.55" fill="#231f20"/>
<circle cx="612.2" cy="347.1" r="1.55" fill="#231f20"/>
<circle cx="611.6" cy="350.4" r="1.55" fill="#231f20"/>
<circle cx="614.9" cy="351" r="1.55" fill="#231f20"/>
<circle cx="619.3" cy="353.1" r="1.55" fill="#231f20"/>
<circle cx="623.7" cy="351.5" r="1.55" fill="#231f20"/>
<circle cx="627.5" cy="351.5" r="1.55" fill="#231f20"/>
<circle cx="628.6" cy="347.1" r="1.55" fill="#231f20"/>
<circle cx="631.9" cy="348.8" r="1.55" fill="#231f20"/>
<circle cx="634.6" cy="352.6" r="1.55" fill="#231f20"/>
<circle cx="628.1" cy="355.3" r="1.55" fill="#231f20"/>
<circle cx="625.9" cy="358.6" r="1.55" fill="#231f20"/>
<circle cx="612.4" cy="357" r="1.55" fill="#231f20"/>
<circle cx="612.4" cy="361.9" r="1.55" fill="#231f20"/>
<circle cx="641.2" cy="347.7" r="1.55" fill="#231f20"/>
<circle cx="642.9" cy="352" r="1.55" fill="#231f20"/>
<circle cx="645" cy="348.8" r="1.55" fill="#231f20"/>
<circle cx="648.3" cy="351" r="1.55" fill="#231f20"/>
<circle cx="651.1" cy="353.1" r="1.55" fill="#231f20"/>
<circle cx="649.4" cy="357.5" r="1.55" fill="#231f20"/>
<circle cx="653.3" cy="347.7" r="1.55" fill="#231f20"/>
<circle cx="654.9" cy="349.3" r="1.55" fill="#231f20"/>
<circle cx="659.3" cy="347.7" r="1.55" fill="#231f20"/>
<circle cx="658.7" cy="353.7" r="1.55" fill="#231f20"/>
<circle cx="661.5" cy="349.9" r="1.55" fill="#231f20"/>
<circle cx="664.8" cy="352.6" r="1.55" fill="#231f20"/>
<circle cx="667" cy="347.7" r="1.55" fill="#231f20"/>
<circle cx="669.7" cy="348.8" r="1.55" fill="#231f20"/>
<circle cx="668.6" cy="352" r="1.55" fill="#231f20"/>
<circle cx="675.7" cy="348.2" r="1.55" fill="#231f20"/>
<circle cx="676.3" cy="351" r="1.55" fill="#231f20"/>
<circle cx="681.2" cy="349.9" r="1.55" fill="#231f20"/>
<circle cx="684.5" cy="347.1" r="1.55" fill="#231f20"/>
<circle cx="683.2" cy="363" r="1.55" fill="#231f20"/>
<circle cx="643.5" cy="349.5" r="1.55" fill="#231f20"/>
<circle cx="656.5" cy="351" r="1.55" fill="#231f20"/>
<circle cx="663" cy="347.5" r="1.55" fill="#231f20"/>
<circle cx="671.5" cy="347.5" r="1.55" fill="#231f20"/>
<circle cx="673" cy="350.5" r="1.55" fill="#231f20"/>
<circle cx="558.8" cy="380.3" r="1.55" fill="#231f20"/>
<circle cx="569.5" cy="379.8" r="1.55" fill="#231f20"/>
<path d="M560.8,387.2 L560.8,382.6 Q563.5,378.8 566.3,382.6 L566.3,387.2 Z" fill="#5e5e60"/>
<rect x="559" y="383" width="2" height="4.2" fill="#231f20" />
<rect x="566" y="382" width="3.9" height="5.2" fill="#231f20" />
<circle cx="568.8" cy="381.8" r="1.2" fill="#231f20"/>
<text x="564.9" y="399.6" font-size="12" text-anchor="middle" fill="#302d2e" font-weight="normal" font-style="normal" >55.795</text>
<text x="665.2" y="399.6" font-size="12" text-anchor="middle" fill="#302d2e" font-weight="normal" font-style="normal" >55.810</text>
<text x="613.8" y="413.8" font-size="12" text-anchor="middle" fill="#302d2e" font-weight="normal" font-style="normal" >Chr 7 (Mb)</text>
<text x="-0.8" y="452.3" font-size="16" text-anchor="start" fill="#231f20" font-weight="bold" font-style="normal" >e</text>
<text x="38.6" y="469.5" font-size="12" text-anchor="end" fill="#302d2e" font-weight="normal" font-style="normal" >2.0</text>
<text x="38.6" y="517.5" font-size="12" text-anchor="end" fill="#302d2e" font-weight="normal" font-style="normal" >1.0</text>
<text x="38.6" y="564.6" font-size="12" text-anchor="end" fill="#302d2e" font-weight="normal" font-style="normal" >0</text>
<text transform="translate(16.9,512.5) rotate(-90)" font-size="12" text-anchor="middle" fill="#302d2e" >Bits</text>
<path d="M42.80,500.60 H57.50 V507.48 H51.62 V555.60 H48.68 V507.48 H42.80 Z" fill="#d62a3c"/>
<path transform="translate(57.50,555.40) scale(0.01135,-0.03462) translate(-84,20)" d="M795 212Q1062 212 1166 480L1423 383Q1340 179 1179.5 79.5Q1019 -20 795 -20Q455 -20 269.5 172.5Q84 365 84 711Q84 1058 263.0 1244.0Q442 1430 782 1430Q1030 1430 1186.0 1330.5Q1342 1231 1405 1038L1145 967Q1112 1073 1015.5 1135.5Q919 1198 788 1198Q588 1198 484.5 1074.0Q381 950 381 711Q381 468 487.5 340.0Q594 212 795 212Z" fill="#2f67a8"/>
<path d="M72.70,504.10 H87.90 V510.54 H81.82 V555.60 H78.78 V510.54 H72.70 Z" fill="#d62a3c"/>
<path transform="translate(89.00,563.50) scale(0.01143,-0.06517) translate(-84,20)" d="M795 212Q1062 212 1166 480L1423 383Q1340 179 1179.5 79.5Q1019 -20 795 -20Q455 -20 269.5 172.5Q84 365 84 711Q84 1058 263.0 1244.0Q442 1430 782 1430Q1030 1430 1186.0 1330.5Q1342 1231 1405 1038L1145 967Q1112 1073 1015.5 1135.5Q919 1198 788 1198Q588 1198 484.5 1074.0Q381 950 381 711Q381 468 487.5 340.0Q594 212 795 212Z" fill="#2f67a8"/>
<path transform="translate(104.30,563.00) scale(0.01093,-0.06614) translate(-84,20)" d="M806 211Q921 211 1029.0 244.5Q1137 278 1196 330V525H852V743H1466V225Q1354 110 1174.5 45.0Q995 -20 798 -20Q454 -20 269.0 170.5Q84 361 84 711Q84 1059 270.0 1244.5Q456 1430 805 1430Q1301 1430 1436 1063L1164 981Q1120 1088 1026.0 1143.0Q932 1198 805 1198Q597 1198 489.0 1072.0Q381 946 381 711Q381 472 492.5 341.5Q604 211 806 211Z" fill="#f5a623"/>
<path transform="translate(119.40,563.50) scale(0.01135,-0.06676) translate(-84,20)" d="M795 212Q1062 212 1166 480L1423 383Q1340 179 1179.5 79.5Q1019 -20 795 -20Q455 -20 269.5 172.5Q84 365 84 711Q84 1058 263.0 1244.0Q442 1430 782 1430Q1030 1430 1186.0 1330.5Q1342 1231 1405 1038L1145 967Q1112 1073 1015.5 1135.5Q919 1198 788 1198Q588 1198 484.5 1074.0Q381 950 381 711Q381 468 487.5 340.0Q594 212 795 212Z" fill="#2f67a8"/>
<path transform="translate(134.60,561.50) scale(0.01100,-0.06214) translate(-84,20)" d="M806 211Q921 211 1029.0 244.5Q1137 278 1196 330V525H852V743H1466V225Q1354 110 1174.5 45.0Q995 -20 798 -20Q454 -20 269.0 170.5Q84 361 84 711Q84 1059 270.0 1244.5Q456 1430 805 1430Q1301 1430 1436 1063L1164 981Q1120 1088 1026.0 1143.0Q932 1198 805 1198Q597 1198 489.0 1072.0Q381 946 381 711Q381 472 492.5 341.5Q604 211 806 211Z" fill="#f5a623"/>
<path transform="translate(149.80,556.40) scale(0.01106,-0.04464) translate(-51,0)" d="M1133 0 1008 360H471L346 0H51L565 1409H913L1425 0ZM739 1192 733 1170Q723 1134 709.0 1088.0Q695 1042 537 582H942L803 987L760 1123Z" fill="#1f9848"/>
<path transform="translate(165.00,556.60) scale(0.01100,-0.04428) translate(-84,20)" d="M806 211Q921 211 1029.0 244.5Q1137 278 1196 330V525H852V743H1466V225Q1354 110 1174.5 45.0Q995 -20 798 -20Q454 -20 269.0 170.5Q84 361 84 711Q84 1059 270.0 1244.5Q456 1430 805 1430Q1301 1430 1436 1063L1164 981Q1120 1088 1026.0 1143.0Q932 1198 805 1198Q597 1198 489.0 1072.0Q381 946 381 711Q381 472 492.5 341.5Q604 211 806 211Z" fill="#f5a623"/>
<path transform="translate(180.20,556.40) scale(0.01106,-0.04464) translate(-51,0)" d="M1133 0 1008 360H471L346 0H51L565 1409H913L1425 0ZM739 1192 733 1170Q723 1134 709.0 1088.0Q695 1042 537 582H942L803 987L760 1123Z" fill="#1f9848"/>
<path transform="translate(42.80,560.40) scale(0.01098,-0.00303) translate(-84,20)" d="M795 212Q1062 212 1166 480L1423 383Q1340 179 1179.5 79.5Q1019 -20 795 -20Q455 -20 269.5 172.5Q84 365 84 711Q84 1058 263.0 1244.0Q442 1430 782 1430Q1030 1430 1186.0 1330.5Q1342 1231 1405 1038L1145 967Q1112 1073 1015.5 1135.5Q919 1198 788 1198Q588 1198 484.5 1074.0Q381 950 381 711Q381 468 487.5 340.0Q594 212 795 212Z" fill="#2f67a8"/>
<path transform="translate(57.50,560.40) scale(0.01106,-0.00326) translate(-51,0)" d="M1133 0 1008 360H471L346 0H51L565 1409H913L1425 0ZM739 1192 733 1170Q723 1134 709.0 1088.0Q695 1042 537 582H942L803 987L760 1123Z" fill="#1f9848"/>
<path transform="translate(72.70,560.40) scale(0.01135,-0.00303) translate(-84,20)" d="M795 212Q1062 212 1166 480L1423 383Q1340 179 1179.5 79.5Q1019 -20 795 -20Q455 -20 269.5 172.5Q84 365 84 711Q84 1058 263.0 1244.0Q442 1430 782 1430Q1030 1430 1186.0 1330.5Q1342 1231 1405 1038L1145 967Q1112 1073 1015.5 1135.5Q919 1198 788 1198Q588 1198 484.5 1074.0Q381 950 381 711Q381 468 487.5 340.0Q594 212 795 212Z" fill="#2f67a8"/>
<path transform="translate(42.80,562.80) scale(0.01064,-0.00159) translate(-84,20)" d="M806 211Q921 211 1029.0 244.5Q1137 278 1196 330V525H852V743H1466V225Q1354 110 1174.5 45.0Q995 -20 798 -20Q454 -20 269.0 170.5Q84 361 84 711Q84 1059 270.0 1244.5Q456 1430 805 1430Q1301 1430 1436 1063L1164 981Q1120 1088 1026.0 1143.0Q932 1198 805 1198Q597 1198 489.0 1072.0Q381 946 381 711Q381 472 492.5 341.5Q604 211 806 211Z" fill="#f5a623"/>
<path transform="translate(57.50,562.80) scale(0.01100,-0.00159) translate(-84,20)" d="M806 211Q921 211 1029.0 244.5Q1137 278 1196 330V525H852V743H1466V225Q1354 110 1174.5 45.0Q995 -20 798 -20Q454 -20 269.0 170.5Q84 361 84 711Q84 1059 270.0 1244.5Q456 1430 805 1430Q1301 1430 1436 1063L1164 981Q1120 1088 1026.0 1143.0Q932 1198 805 1198Q597 1198 489.0 1072.0Q381 946 381 711Q381 472 492.5 341.5Q604 211 806 211Z" fill="#f5a623"/>
<path transform="translate(72.70,562.80) scale(0.01100,-0.00159) translate(-84,20)" d="M806 211Q921 211 1029.0 244.5Q1137 278 1196 330V525H852V743H1466V225Q1354 110 1174.5 45.0Q995 -20 798 -20Q454 -20 269.0 170.5Q84 361 84 711Q84 1059 270.0 1244.5Q456 1430 805 1430Q1301 1430 1436 1063L1164 981Q1120 1088 1026.0 1143.0Q932 1198 805 1198Q597 1198 489.0 1072.0Q381 946 381 711Q381 472 492.5 341.5Q604 211 806 211Z" fill="#f5a623"/>
<path transform="translate(42.80,565.00) scale(0.01070,-0.00142) translate(-51,0)" d="M1133 0 1008 360H471L346 0H51L565 1409H913L1425 0ZM739 1192 733 1170Q723 1134 709.0 1088.0Q695 1042 537 582H942L803 987L760 1123Z" fill="#1f9848"/>
<path transform="translate(57.50,565.00) scale(0.01260,-0.00142) translate(-23,0)" d="M773 1181V0H478V1181H23V1409H1229V1181Z" fill="#d62a3c"/>
<path transform="translate(72.70,565.00) scale(0.01106,-0.00142) translate(-51,0)" d="M1133 0 1008 360H471L346 0H51L565 1409H913L1425 0ZM739 1192 733 1170Q723 1134 709.0 1088.0Q695 1042 537 582H942L803 987L760 1123Z" fill="#1f9848"/>
<path transform="translate(149.80,562.20) scale(0.01100,-0.00372) translate(-84,20)" d="M806 211Q921 211 1029.0 244.5Q1137 278 1196 330V525H852V743H1466V225Q1354 110 1174.5 45.0Q995 -20 798 -20Q454 -20 269.0 170.5Q84 361 84 711Q84 1059 270.0 1244.5Q456 1430 805 1430Q1301 1430 1436 1063L1164 981Q1120 1088 1026.0 1143.0Q932 1198 805 1198Q597 1198 489.0 1072.0Q381 946 381 711Q381 472 492.5 341.5Q604 211 806 211Z" fill="#f5a623"/>
<path transform="translate(165.00,562.20) scale(0.01260,-0.00383) translate(-23,0)" d="M773 1181V0H478V1181H23V1409H1229V1181Z" fill="#d62a3c"/>
<path transform="translate(180.20,562.20) scale(0.01100,-0.00372) translate(-84,20)" d="M806 211Q921 211 1029.0 244.5Q1137 278 1196 330V525H852V743H1466V225Q1354 110 1174.5 45.0Q995 -20 798 -20Q454 -20 269.0 170.5Q84 361 84 711Q84 1059 270.0 1244.5Q456 1430 805 1430Q1301 1430 1436 1063L1164 981Q1120 1088 1026.0 1143.0Q932 1198 805 1198Q597 1198 489.0 1072.0Q381 946 381 711Q381 472 492.5 341.5Q604 211 806 211Z" fill="#f5a623"/>
<path transform="translate(149.80,564.40) scale(0.01135,-0.00138) translate(-84,20)" d="M795 212Q1062 212 1166 480L1423 383Q1340 179 1179.5 79.5Q1019 -20 795 -20Q455 -20 269.5 172.5Q84 365 84 711Q84 1058 263.0 1244.0Q442 1430 782 1430Q1030 1430 1186.0 1330.5Q1342 1231 1405 1038L1145 967Q1112 1073 1015.5 1135.5Q919 1198 788 1198Q588 1198 484.5 1074.0Q381 950 381 711Q381 468 487.5 340.0Q594 212 795 212Z" fill="#2f67a8"/>
<path transform="translate(165.00,564.40) scale(0.01135,-0.00138) translate(-84,20)" d="M795 212Q1062 212 1166 480L1423 383Q1340 179 1179.5 79.5Q1019 -20 795 -20Q455 -20 269.5 172.5Q84 365 84 711Q84 1058 263.0 1244.0Q442 1430 782 1430Q1030 1430 1186.0 1330.5Q1342 1231 1405 1038L1145 967Q1112 1073 1015.5 1135.5Q919 1198 788 1198Q588 1198 484.5 1074.0Q381 950 381 711Q381 468 487.5 340.0Q594 212 795 212Z" fill="#2f67a8"/>
<path transform="translate(180.20,564.40) scale(0.01135,-0.00138) translate(-84,20)" d="M795 212Q1062 212 1166 480L1423 383Q1340 179 1179.5 79.5Q1019 -20 795 -20Q455 -20 269.5 172.5Q84 365 84 711Q84 1058 263.0 1244.0Q442 1430 782 1430Q1030 1430 1186.0 1330.5Q1342 1231 1405 1038L1145 967Q1112 1073 1015.5 1135.5Q919 1198 788 1198Q588 1198 484.5 1074.0Q381 950 381 711Q381 468 487.5 340.0Q594 212 795 212Z" fill="#2f67a8"/>
<text x="216.1" y="451.9" font-size="16" text-anchor="start" fill="#231f20" font-weight="bold" font-style="normal" >f</text>
<text x="231.7" y="462.8" font-size="12" text-anchor="start" fill="#302d2e" font-weight="normal" font-style="normal" >CGI promoter</text>
<circle cx="293.3" cy="515.9" r="48.3" fill="#377eb8"/>
<path d="M293.3,515.9 L326.36,480.69 A48.3,48.3 0 0 1 341.51,518.85 Z" fill="#984ea3"/>
<path d="M293.3,515.9 L341.51,518.85 A48.3,48.3 0 0 1 329.02,548.41 Z" fill="#4daf4a"/>
<text x="270.3" y="520.9" font-size="12" text-anchor="middle" fill="#fff" font-weight="normal" font-style="normal" >76%</text>
<text x="321.6" y="511.9" font-size="12" text-anchor="middle" fill="#fff" font-weight="normal" font-style="normal" >14%</text>
<text x="322.8" y="532.2" font-size="12" text-anchor="middle" fill="#fff" font-weight="normal" font-style="normal" >10%</text>
<text x="340.3" y="498.8" font-size="12" text-anchor="start" fill="#302d2e" font-weight="normal" font-style="normal" >Distal</text>
<text x="340.3" y="539.8" font-size="12" text-anchor="start" fill="#302d2e" font-weight="normal" font-style="normal" >Non-CGI</text>
<text x="340.3" y="554.4" font-size="12" text-anchor="start" fill="#302d2e" font-weight="normal" font-style="normal" >promoter</text>
<text x="408.8" y="451.6" font-size="16" text-anchor="start" fill="#231f20" font-weight="bold" font-style="normal" >g</text>
<text x="442.1" y="462.8" font-size="12" fill="#302d2e">Proximal (<tspan font-style="italic">n</tspan> = 566)</text>
<text x="595.2" y="462.6" font-size="12" fill="#302d2e">Distal (<tspan font-style="italic">n</tspan> = 641)</text>
<circle cx="490.8" cy="516.2" r="48.7" fill="#f4811f"/>
<path d="M490.8,516.2 L536.53,532.94 A48.7,48.7 0 0 1 509.83,561.03 Z" fill="#9a9a9a"/>
<circle cx="635.9" cy="515.5" r="48.6" fill="#9a9a9a"/>
<path d="M635.9,515.5 L681.68,531.80 A48.6,48.6 0 0 1 656.82,559.37 Z" fill="#f4811f"/>
<text x="481.4" y="505.7" font-size="12" text-anchor="middle" fill="#fff" font-weight="normal" font-style="normal" >87%</text>
<text x="515" y="542.4" font-size="12" text-anchor="middle" fill="#fff" font-weight="normal" font-style="normal" >13%</text>
<text x="624.8" y="505" font-size="12" text-anchor="middle" fill="#fff" font-weight="normal" font-style="normal" >88%</text>
<text x="660.9" y="541.8" font-size="12" text-anchor="middle" fill="#fff" font-weight="normal" font-style="normal" >12%</text>
<rect x="538.7" y="537.3" width="10.4" height="10.3" fill="#f4811f" />
<rect x="538.7" y="554.1" width="10.4" height="10.1" fill="#9a9a9a" />
<text x="550.8" y="546.3" font-size="12" text-anchor="start" fill="#302d2e" font-weight="normal" font-style="normal" >Bound</text>
<text x="550.8" y="562.2" font-size="12" text-anchor="start" fill="#302d2e" font-weight="normal" font-style="normal" >Unbound</text>
</svg>
</body></html>
